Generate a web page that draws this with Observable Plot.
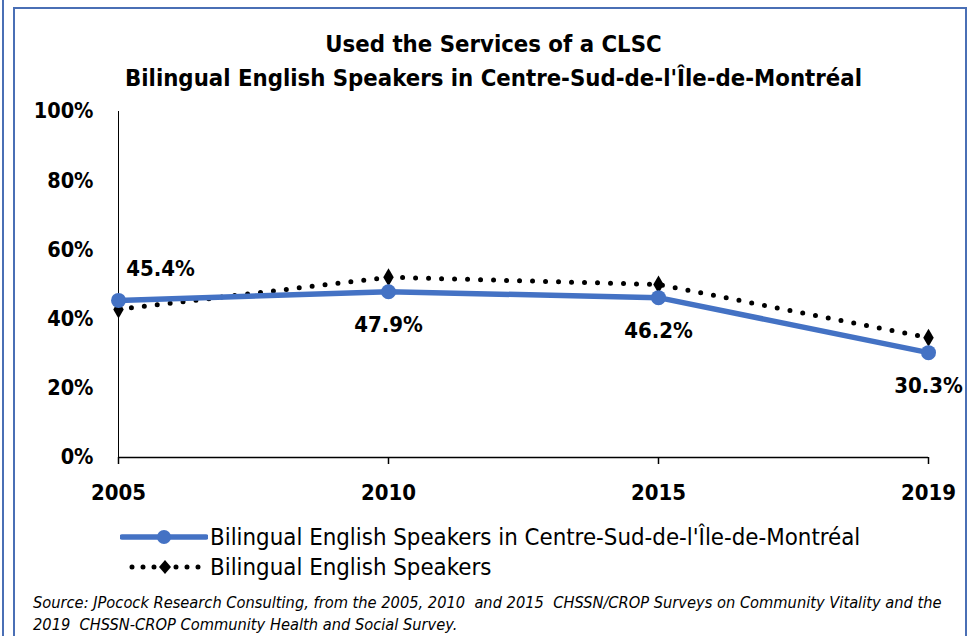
<!DOCTYPE html>
<html>
<head>
<meta charset="utf-8">
<script src="https://cdn.jsdelivr.net/npm/d3@7"></script>
<script src="https://cdn.jsdelivr.net/npm/@observablehq/plot@0.6"></script>
<style>
  html, body { margin: 0; padding: 0; background: #fff; }
  body { width: 977px; height: 636px; position: relative; overflow: hidden;
         font-family: "DejaVu Sans Condensed", sans-serif; }
  #edge { position: absolute; left: 2px; top: 0; width: 2px; height: 636px; background: #4a6fb5; }
  #frame { position: absolute; left: 13px; top: 7px; width: 954px; height: 640px;
           border: 2px solid #4a6fb5; box-sizing: border-box; }
  #title { position: absolute; left: 5px; top: 27px; width: 977px; text-align: center;
           font-weight: bold; font-size: 23.7px; line-height: 34px; color: #000; }
  #chart { position: absolute; left: 0; top: 95px; }
  #legend { position: absolute; left: 120px; top: 522px; font-size: 23.8px; color: #000; }
  .lrow { display: flex; align-items: center; height: 30px; }
  .lrow svg { margin-right: 2px; }
  #source { position: absolute; left: 33px; top: 592px; font-size: 16.3px; font-style: italic;
            line-height: 22px; color: #000; white-space: pre; }
</style>
</head>
<body>
<div id="edge"></div>
<div id="frame"></div>
<div id="title">Used the Services of a CLSC<br>Bilingual English Speakers in Centre-Sud-de-l'Île-de-Montréal</div>
<div id="chart"></div>
<div id="legend"></div>
<div id="source"></div>
<script>
const years = ["2005", "2010", "2015", "2019"];
const regionValues = [45.4, 47.9, 46.2, 30.3];
const overallValues = [42.8, 52.1, 50.0, 34.6];
const yTicks = [0, 20, 40, 60, 80, 100];
const seriesNames = ["Bilingual English Speakers in Centre-Sud-de-l'Île-de-Montréal", "Bilingual English Speakers"];
const sourceLines = [
  "Source: JPocock Research Consulting, from the 2005, 2010  and 2015  CHSSN/CROP Surveys on Community Vitality and the",
  "2019  CHSSN-CROP Community Health and Social Survey."
];

const blue = "#4472C4";
const region = years.map((y, i) => ({year: y, value: regionValues[i]}));
const overall = years.map((y, i) => ({year: y, value: overallValues[i]}));

const chart = Plot.plot({
  width: 977,
  height: 420,
  marginLeft: 118,
  marginRight: 49,
  marginTop: 16,
  marginBottom: 58,
  style: {fontFamily: '"DejaVu Sans Condensed", sans-serif', color: "#000", background: "transparent"},
  x: {type: "point", domain: years, padding: 0, label: null},
  y: {domain: [0, 100], label: null},
  marks: [
    Plot.axisY({ticks: yTicks, tickFormat: d => d + "%", tickSize: 0, tickPadding: 25, fontSize: 21.5, fontWeight: "bold"}),
    Plot.axisX({tickSize: 7, tickPadding: 20, fontSize: 22, fontWeight: "bold", stroke: "#000", strokeWidth: 1.5}),
    Plot.ruleY([0], {stroke: "#000", strokeWidth: 1.5}),
    Plot.ruleX([years[0]], {y1: 0, y2: 100, stroke: "#000", strokeWidth: 1}),
    Plot.line(overall, {x: "year", y: "value", stroke: "#000", strokeWidth: 5, strokeDasharray: "0 13", strokeLinecap: "round"}),
    Plot.dot(overall, {x: "year", y: "value", symbol: "diamond", r: 5.5, fill: "#000", stroke: "none"}),
    Plot.line(region, {x: "year", y: "value", stroke: blue, strokeWidth: 5.5}),
    Plot.dot(region, {x: "year", y: "value", r: 7.5, fill: blue, stroke: "none"}),
    Plot.text(region.slice(0, 1), {x: "year", y: "value", text: d => d.value.toFixed(1) + "%", dx: 42, dy: -31, fontSize: 22, fontWeight: "bold", fill: "#000"}),
    Plot.text(region.slice(1), {x: "year", y: "value", text: d => d.value.toFixed(1) + "%", dy: 33, fontSize: 22, fontWeight: "bold", fill: "#000"})
  ]
});
document.getElementById("chart").appendChild(chart);

// Legend
const legend = document.getElementById("legend");
const sw1 = `<svg width="88" height="20"><line x1="2" y1="10" x2="86" y2="10" stroke="${blue}" stroke-width="5.5" stroke-linecap="round"/><circle cx="44" cy="10" r="7" fill="${blue}"/></svg>`;
const sw2 = `<svg width="88" height="20"><line x1="12" y1="10" x2="82" y2="10" stroke="#000" stroke-width="5" stroke-dasharray="0 11" stroke-linecap="round"/><path d="M45,3 L51,10 L45,17 L39,10 Z" fill="#000"/></svg>`;
legend.innerHTML = `<div class="lrow">${sw1}<span>${seriesNames[0]}</span></div><div class="lrow">${sw2}<span>${seriesNames[1]}</span></div>`;

document.getElementById("source").textContent = sourceLines.join("\n");
</script>
</body>
</html>
